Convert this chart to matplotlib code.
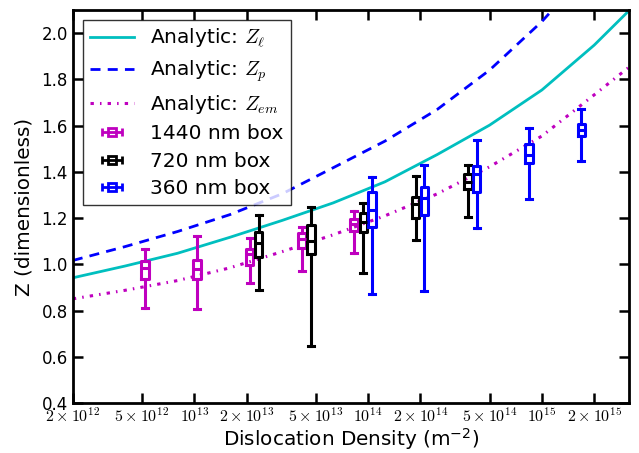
import matplotlib.pyplot as plt
import numpy as np
from matplotlib.ticker import NullLocator, FixedLocator, FixedFormatter

plt.rcParams['mathtext.fontset'] = 'cm'

# Analytic curves at a few densities
rho_curve = [2e12, 4e12, 8e12, 1.6e13, 3.2e13, 6.3e13, 1.25e14, 2.5e14,
             5e14, 1e15, 2e15, 3.2e15]
z_l = [0.942, 0.993, 1.048, 1.117, 1.190, 1.266, 1.357, 1.475,
       1.602, 1.754, 1.948, 2.10]
z_p = [1.017, 1.077, 1.142, 1.215, 1.305, 1.418, 1.533, 1.670,
       1.840, 2.050, 2.300, 2.45]
z_em = [0.851, 0.888, 0.930, 0.985, 1.055, 1.128, 1.210, 1.305,
        1.422, 1.555, 1.733, 1.855]

# Box statistics: whisker low, q1, median, q3, whisker high
rho_1440 = [5.2e12, 1.04e13, 2.08e13, 4.17e13, 8.3e13]
lo_1440 = [0.812, 0.809, 0.920, 0.971, 1.050]
q1_1440 = [0.935, 0.935, 0.996, 1.073, 1.145]
med_1440 = [0.986, 0.980, 1.043, 1.110, 1.174]
q3_1440 = [1.014, 1.018, 1.065, 1.135, 1.196]
hi_1440 = [1.065, 1.123, 1.116, 1.160, 1.229]

rho_720 = [2.35e13, 4.7e13, 9.4e13, 1.88e14, 3.76e14]
lo_720 = [0.888, 0.648, 0.961, 1.106, 1.207]
q1_720 = [1.033, 1.043, 1.140, 1.200, 1.326]
med_720 = [1.094, 1.099, 1.184, 1.260, 1.355]
q3_720 = [1.142, 1.170, 1.222, 1.290, 1.391]
hi_720 = [1.213, 1.246, 1.265, 1.380, 1.430]

rho_360 = [1.055e14, 2.11e14, 4.22e14, 8.44e14, 1.69e15]
lo_360 = [0.870, 0.884, 1.157, 1.283, 1.449]
q1_360 = [1.162, 1.214, 1.312, 1.437, 1.555]
med_360 = [1.236, 1.287, 1.391, 1.473, 1.580]
q3_360 = [1.314, 1.336, 1.425, 1.521, 1.606]
hi_360 = [1.376, 1.430, 1.537, 1.591, 1.670]

xtick_vals = [2e12, 5e12, 1e13, 2e13, 5e13, 1e14, 2e14, 5e14, 1e15, 2e15]
xtick_labels = [r'$2\times10^{12}$', r'$5\times10^{12}$', r'$10^{13}$',
                r'$2\times10^{13}$', r'$5\times10^{13}$', r'$10^{14}$',
                r'$2\times10^{14}$', r'$5\times10^{14}$', r'$10^{15}$',
                r'$2\times10^{15}$']

fig = plt.figure(figsize=(6.39, 4.53), dpi=100)
ax = fig.add_axes([0.114, 0.11, 0.87, 0.868])
ax.set_xscale('log')

l1, = ax.plot(rho_curve, z_l, color='c', lw=2, label=r'Analytic: $Z_\ell$')
l2, = ax.plot(rho_curve, z_p, color='b', lw=2, linestyle=(0, (3.6, 2.6)),
              label=r'Analytic: $Z_p$')
l3, = ax.plot(rho_curve, z_em, color='m', lw=2.2,
              linestyle=(0, (1.1, 2.0, 0.5, 2.0)),
              label=r'Analytic: $Z_{em}$')


def draw_boxes(rho, lo, q1, med, q3, hi, color):
    stats = [dict(whislo=a, q1=b, med=c, q3=d, whishi=e)
             for a, b, c, d, e in zip(lo, q1, med, q3, hi)]
    props = dict(color=color, lw=2.2)
    ax.bxp(stats, positions=rho, widths=[0.1 * r for r in rho],
           capwidths=[0.08 * r for r in rho], showfliers=False,
           boxprops=props, whiskerprops=props, capprops=props,
           medianprops=props, manage_ticks=False)
    h = ax.errorbar([np.nan], [np.nan], xerr=[1.0], fmt='s', color=color,
                    mfc='none', mec=color, ms=6, mew=2, lw=2, capsize=3,
                    capthick=2)
    return h


h1 = draw_boxes(rho_1440, lo_1440, q1_1440, med_1440, q3_1440, hi_1440, 'm')
h2 = draw_boxes(rho_720, lo_720, q1_720, med_720, q3_720, hi_720, 'k')
h3 = draw_boxes(rho_360, lo_360, q1_360, med_360, q3_360, hi_360, 'b')

ax.set_xlim(2e12, 10 ** 15.5)
ax.set_ylim(0.4, 2.1)
ax.xaxis.set_major_locator(FixedLocator(xtick_vals))
ax.xaxis.set_major_formatter(FixedFormatter(xtick_labels))
ax.xaxis.set_minor_locator(NullLocator())
ax.set_yticks(np.arange(0.4, 2.01, 0.2))
ax.set_yticklabels(['0.4', '0.6', '0.8', '1.0', '1.2', '1.4', '1.6', '1.8', '2.0'])

ax.tick_params(direction='in', length=7, width=1.8, top=True, right=True)
ax.tick_params(axis='x', labelsize=11.5, pad=2)
ax.tick_params(axis='y', labelsize=12)
for s in ax.spines.values():
    s.set_linewidth(2)

ax.set_xlabel(r'Dislocation Density (m$\mathregular{^{-2}}$)', fontsize=14.4,
              labelpad=1)
ax.set_ylabel('Z (dimensionless)', fontsize=14.4, labelpad=6)

leg = ax.legend([l1, l2, l3, h1, h2, h3],
                [r'Analytic: $Z_\ell$', r'Analytic: $Z_p$', r'Analytic: $Z_{em}$',
                 '1440 nm box', '720 nm box', '360 nm box'],
                loc='upper left', fontsize=14.5, fancybox=False,
                handlelength=2.2, labelspacing=0.42, borderpad=0.35)
leg.get_frame().set_edgecolor('k')
leg.get_frame().set_linewidth(1)

fig.savefig('out.png', dpi=100)
